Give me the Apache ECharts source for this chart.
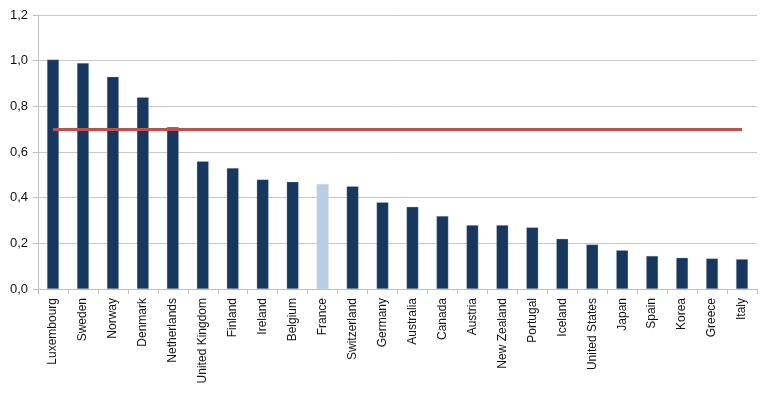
<!DOCTYPE html>
<html>
<head>
<meta charset="utf-8">
<script src="https://cdn.jsdelivr.net/npm/echarts@6/dist/echarts.min.js"></script>
<style>
html,body{margin:0;padding:0;background:#fff;}
#chart{width:773px;height:395px;}
</style>
</head>
<body>
<div id="chart"></div>
<script>
var categories = ["Luxembourg","Sweden","Norway","Denmark","Netherlands","United Kingdom","Finland","Ireland","Belgium","France","Switzerland","Germany","Australia","Canada","Austria","New Zealand","Portugal","Iceland","United States","Japan","Spain","Korea","Greece","Italy"];
var values = [1.005,0.99,0.93,0.84,0.71,0.56,0.53,0.48,0.47,0.46,0.45,0.38,0.36,0.32,0.28,0.28,0.27,0.22,0.195,0.17,0.145,0.137,0.134,0.131];
var highlighted = "France";
var targetValue = 0.7;
var yTicks = [0,0.2,0.4,0.6,0.8,1.0,1.2];

var barData = categories.map(function(c,i){
  return {value: values[i], itemStyle: {color: c === highlighted ? '#B9CDE5' : '#17375E'}};
});

var chart = echarts.init(document.getElementById('chart'), null, {renderer:'canvas'});
chart.setOption({
  animation:false,
  grid:{left:38,right:16,top:15,bottom:106},
  xAxis:{
    type:'category',
    data:categories,
    boundaryGap:true,
    axisLine:{lineStyle:{color:'#BFBFBF',width:1}},
    axisTick:{show:true,alignWithLabel:false,length:5,lineStyle:{color:'#BFBFBF'}},
    axisLabel:{rotate:90,interval:0,color:'#111',fontFamily:'Liberation Sans',fontSize:12,margin:9}
  },
  yAxis:{
    type:'value',
    min:yTicks[0],max:yTicks[yTicks.length-1],interval:0.2,
    axisLine:{show:true,lineStyle:{color:'#BFBFBF'}},
    axisTick:{show:true,length:5,lineStyle:{color:'#BFBFBF'}},
    splitLine:{lineStyle:{color:'#C8C8C8',width:1}},
    axisLabel:{color:'#111',fontFamily:'Liberation Sans',fontSize:13,margin:10,
      formatter:function(v){return v.toFixed(1).replace('.',',');}}
  },
  series:[{
    type:'bar',
    data:barData,
    barWidth:12,
    itemStyle:{borderColor:'rgba(185,205,229,0.6)',borderWidth:0.5},
    markLine:{
      symbol:['none','none'],
      silent:true,
      label:{show:false},
      lineStyle:{color:'#C0504D',width:3,type:'solid'},
      data:[[{coord:[categories[0],targetValue]},{coord:[categories[categories.length-1],targetValue]}]]
    }
  }]
});
</script>
</body>
</html>
